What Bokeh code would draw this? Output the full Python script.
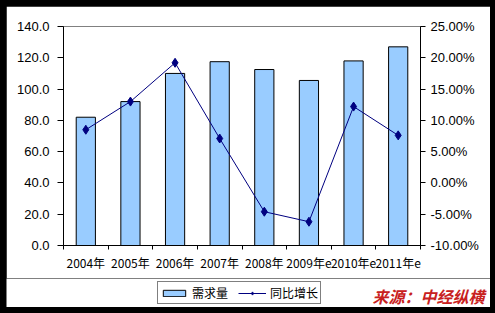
from bokeh.plotting import figure
from bokeh.layouts import column
from bokeh.models import (Range1d, LinearAxis, FixedTicker, PrintfTickFormatter,
                          Legend, LegendItem, Label, ColumnDataSource)
from bokeh.embed import file_html
from bokeh.resources import INLINE

# ---- data ----
years = ["2004年", "2005年", "2006年", "2007年", "2008年", "2009年e", "2010年e", "2011年e"]
demand = [82.0, 92.0, 110.0, 117.5, 112.5, 105.5, 118.0, 127.0]          # 需求量
growth = [8.5, 13.0, 19.2, 7.1, -4.6, -6.2, 12.2, 7.6]                    # 同比增长 (%)
left_ticks = [0, 20, 40, 60, 80, 100, 120, 140]
right_ticks = [-10, -5, 0, 5, 10, 15, 20, 25]
series_names = ["需求量", "同比增长"]
source_text = "来源：中经纵横"

xs = [i + 0.5 for i in range(len(years))]
src = ColumnDataSource(dict(x=xs, demand=demand, growth=growth))

NUM_FONT = "Liberation Sans"
CJK_FONT = "Noto Sans CJK SC"
BAR_FILL = "#99CCFF"
LINE_COL = "#000080"

# ---------------- main chart ----------------
p = figure(width=484, height=272, output_backend="svg", toolbar_location=None,
           x_range=Range1d(0, len(years)), y_range=Range1d(left_ticks[0], left_ticks[-1]),
           x_axis_type=None, y_axis_type=None,
           min_border_left=57, min_border_right=70, min_border_top=20, min_border_bottom=33)
p.frame_align = False
p.extra_y_ranges = {"pct": Range1d(right_ticks[0], right_ticks[-1])}
p.background_fill_color = "white"
p.border_fill_color = "white"
p.outline_line_color = "#808080"
p.outline_line_width = 1

ax_l = LinearAxis(ticker=FixedTicker(ticks=left_ticks), formatter=PrintfTickFormatter(format="%.1f"))
ax_l.major_tick_out = 6
ax_l.major_tick_in = 0
ax_l.minor_tick_out = 0
ax_l.major_label_standoff = 8
ax_l.major_label_text_font = NUM_FONT
ax_l.major_label_text_font_size = "13px"
ax_l.major_label_text_color = "black"
ax_l.axis_line_color = "black"
p.add_layout(ax_l, "left")

ax_r = LinearAxis(y_range_name="pct", ticker=FixedTicker(ticks=right_ticks),
                  formatter=PrintfTickFormatter(format="%.2f%%"))
ax_r.major_tick_out = 5
ax_r.major_tick_in = 0
ax_r.minor_tick_out = 0
ax_r.major_label_standoff = 5
ax_r.major_label_text_font = NUM_FONT
ax_r.major_label_text_font_size = "13px"
ax_r.major_label_text_color = "black"
ax_r.axis_line_color = "black"
p.add_layout(ax_r, "right")

ax_b = LinearAxis(ticker=FixedTicker(ticks=xs, minor_ticks=list(range(len(years) + 1))))
ax_b.major_label_overrides = {x: y for x, y in zip(xs, years)}
ax_b.major_tick_out = 0
ax_b.major_tick_in = 0
ax_b.minor_tick_out = 4
ax_b.minor_tick_in = 0
ax_b.major_label_standoff = 4
ax_b.major_label_text_font = CJK_FONT
ax_b.major_label_text_font_size = "12px"
ax_b.major_label_text_color = "black"
ax_b.axis_line_color = "black"
p.add_layout(ax_b, "below")

p.vbar(x="x", top="demand", width=0.43, source=src,
       fill_color=BAR_FILL, line_color="black", line_width=1)
p.line(x="x", y="growth", source=src, y_range_name="pct", line_color=LINE_COL, line_width=1)
p.scatter(x="x", y="growth", source=src, y_range_name="pct", marker="diamond",
          size=9, fill_color=LINE_COL, line_color=LINE_COL)

# ---------------- legend / source strip ----------------
p2 = figure(width=484, height=29, output_backend="svg", toolbar_location=None,
            x_range=Range1d(0, 1), y_range=Range1d(0, 1),
            x_axis_type=None, y_axis_type=None,
            min_border_left=0, min_border_right=0, min_border_top=0, min_border_bottom=0)
p2.frame_align = False
p2.outline_line_color = None
p2.background_fill_color = "white"
p2.border_fill_color = "white"
p2.grid.visible = False
# legend proxies: one point each, placed outside this strip's visible range
proxy = ColumnDataSource(dict(x=[-10], top=[-10], y=[-10]))
lg_bar = p2.vbar(x="x", top="top", width=0.4, source=proxy,
                 fill_color=BAR_FILL, line_color="black", line_width=1)
lg_line = p2.line(x="x", y="y", source=proxy, line_color=LINE_COL, line_width=1)
lg_pts = p2.scatter(x="x", y="y", source=proxy, marker="diamond", size=8,
                    fill_color=LINE_COL, line_color=LINE_COL)

legend = Legend(items=[LegendItem(label=series_names[0], renderers=[lg_bar]),
                       LegendItem(label=series_names[1], renderers=[lg_line, lg_pts])],
                location=(151, 3), orientation="horizontal")
legend.border_line_color = "black"
legend.border_line_width = 1
legend.background_fill_color = "white"
legend.background_fill_alpha = 1
legend.label_text_font = CJK_FONT
legend.label_text_font_size = "12px"
legend.label_text_color = "black"
legend.glyph_width = 28
legend.glyph_height = 8
legend.label_height = 12
legend.label_standoff = 4
legend.spacing = 10
legend.padding = 2
legend.margin = 0
p2.add_layout(legend)

lbl = Label(x=366, y=0, x_units="screen", y_units="screen", text=source_text,
            text_font=CJK_FONT, text_font_style="bold italic", text_font_size="16px",
            text_color="#C82020", text_baseline="bottom", text_align="left")
p2.add_layout(lbl)

layout = column(p, p2, spacing=0)

html = file_html(layout, INLINE)
css = ("<style>html,body{margin:0 !important;background:#000 !important;}"
       "body{padding:6px 0 0 6px !important;box-sizing:border-box !important;}</style>")
if "</head>" in html:
    html = html.replace("</head>", css + "</head>", 1)
else:
    html = css + html
open("out.html", "w").write(html)
